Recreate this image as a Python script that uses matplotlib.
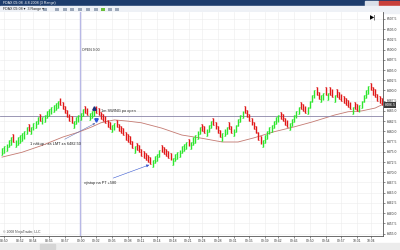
import matplotlib
matplotlib.use("Agg")
import matplotlib.pyplot as plt
from matplotlib.patches import Rectangle
import numpy as np

plt.rcParams['font.family'] = ['Liberation Sans', 'DejaVu Sans']

# close of every range bar
closes = [
    6476.0, 6476.5, 6477.0, 6478.0, 6478.5, 6477.5, 6478.0, 6478.5, 6479.0, 6479.5,
    6480.0, 6481.0, 6480.0, 6481.0, 6482.0, 6482.5, 6483.5, 6482.5, 6483.5, 6484.0,
    6485.0, 6485.5, 6486.0, 6486.5, 6487.0, 6487.5, 6486.5, 6485.5, 6484.5, 6483.5,
    6482.5, 6482.0, 6482.5, 6483.5, 6484.0, 6484.5, 6485.5, 6484.5, 6484.0, 6484.5,
    6485.0, 6485.5, 6484.5, 6484.0, 6483.0, 6482.5, 6482.0, 6481.0, 6480.5, 6481.5,
    6482.0, 6481.0, 6480.0, 6479.5, 6479.0, 6478.0, 6477.5, 6477.0, 6476.0, 6476.5,
    6475.5, 6475.0, 6474.0, 6473.5, 6473.0, 6472.5, 6472.0, 6473.0, 6474.0, 6474.5,
    6475.5, 6475.0, 6474.5, 6474.0, 6473.5, 6473.0, 6473.5, 6474.5, 6475.0, 6475.5,
    6476.5, 6477.0, 6477.5, 6476.5, 6477.5, 6478.5, 6479.0, 6480.0, 6481.0, 6480.0,
    6479.5, 6480.5, 6481.5, 6482.5, 6481.5, 6480.5, 6479.5, 6478.5, 6479.5, 6480.5,
    6481.0, 6480.5, 6479.5, 6480.5, 6481.5, 6483.0, 6484.0, 6485.0, 6484.5, 6483.5,
    6482.5, 6481.5, 6480.5, 6479.5, 6478.0, 6477.0, 6478.0, 6479.0, 6480.0, 6481.0,
    6481.5, 6482.5, 6483.5, 6484.0, 6483.0, 6482.5, 6481.5, 6481.0, 6482.0, 6483.0,
    6484.0, 6485.0, 6486.0, 6485.5, 6485.0, 6484.5, 6486.0, 6487.5, 6489.0, 6490.0,
    6489.0, 6488.0, 6489.0, 6489.5, 6489.0, 6489.5, 6489.0, 6488.5, 6489.0, 6488.5,
    6488.0, 6487.5, 6487.0, 6486.5, 6486.0, 6485.5, 6486.0, 6485.5, 6485.0, 6486.5,
    6487.5, 6489.0, 6490.0, 6491.0, 6490.0, 6489.0, 6488.5, 6487.5, 6487.0, 6486.5,
]

# moving average line, sampled at bar indices
ma_idx = [0, 9, 18, 27, 34, 40, 44, 50, 56, 62, 71, 80, 88, 98, 105, 112, 121, 130,
          138, 148, 154, 160, 166, 169]
ma_vals = [6473.7, 6474.9, 6476.6, 6478.6, 6479.8, 6481.1, 6482.1, 6482.8, 6482.5,
           6482.1, 6480.8, 6479.1, 6478.4, 6477.4, 6477.4, 6478.4, 6479.9, 6481.1,
           6482.3, 6484.0, 6484.8, 6485.0, 6485.7, 6486.5]

time_idx = [1, 8, 14, 21, 28, 35, 42, 49, 56, 62, 69, 76, 83, 89, 96, 103, 110, 117,
            123, 130, 137, 144, 151, 158, 164]
time_labels = ['08:50', '08:52', '08:54', '08:55', '08:57', '09:00', '09:02', '09:05',
               '09:08', '09:11', '09:14', '09:18', '09:21', '09:24', '09:28', '09:31',
               '09:35', '09:39', '09:42', '09:46', '09:50', '09:54', '09:57', '10:01',
               '10:04']

open_level = 6483.75
open_bar = 35
bar_range = 1.75

fig = plt.figure(figsize=(4, 2.5), dpi=100)

# window chrome in pixel coordinates
bg = fig.add_axes([0, 0, 1, 1])
bg.set_xlim(0, 400)
bg.set_ylim(250, 0)
bg.axis('off')
bg.add_patch(Rectangle((0, 0), 400, 6, color='#1d3c6c'))
bg.add_patch(Rectangle((365, 0.5), 13, 5, color='#d9dfe8'))
bg.add_patch(Rectangle((379, 0.5), 20, 5, color='#c8403a'))
bg.text(3, 3, 'FDAX 09-08  4.8.2008 (3 Range)', color='white', fontsize=2.6, va='center')
bg.add_patch(Rectangle((0, 6), 400, 6.5, color='#eef1f6'))
bg.text(3, 9.3, 'FDAX 09-08 \u25be  3 Range \u25be', color='#222222', fontsize=2.6, va='center')
for k, x in enumerate([43, 55, 63, 70, 78, 86, 94, 101, 108, 115]):
    bg.add_patch(Rectangle((x, 7.5), 4, 3.5, facecolor='#9aa6b8' if k != 7 else '#6bbf3a',
                           edgecolor='none'))
bg.add_patch(Rectangle((0, 243), 400, 7, color='#ececec'))
bg.add_patch(Rectangle((40, 244), 15, 5, color='#d5d5d5'))

ax = fig.add_axes([0, 14 / 250, 383 / 400, 224 / 250])
ax.set_zorder(2)
ax.set_facecolor('white')

xs = np.arange(len(closes))
lows, highs, opens, cols = [], [], [], []
for i, c in enumerate(closes):
    prev = closes[i - 1] if i else c - 0.5
    if c >= prev:
        lows.append(c - bar_range); highs.append(c); opens.append(c - bar_range)
        cols.append('#2ee62e')
    else:
        lows.append(c); highs.append(c + bar_range); opens.append(c + bar_range)
        cols.append('#e01818')

ax.vlines(xs, lows, highs, colors=cols, lw=1.0, zorder=3)
ax.hlines(opens, xs - 0.4, xs, colors=cols, lw=0.5, zorder=3)
ax.hlines(closes, xs, xs + 0.4, colors=cols, lw=0.5, zorder=3)

ax.plot(ma_idx, ma_vals, color='#c47a72', lw=0.6, zorder=2)
ax.axhline(open_level, color='#8a86a8', lw=0.6, zorder=2)
ax.axvline(open_bar - 0.5, color='#b8b8e6', lw=1.0, zorder=1)
ax.text(open_bar + 0.8, 6500.0, 'OPEN 9:00', fontsize=2.5, color='#333333', va='center')

# trade markers and notes
ax.plot([41], [6485.6], marker='^', color='#1c2f7a', ms=2.5, zorder=4)
ax.plot([42], [6482.8], marker='v', color='#2a55d8', ms=2.5, zorder=4)
ax.text(44, 6485.0, '1m SWING po open', fontsize=2.8, color='#222222', va='center')
ax.annotate('1 n\u00e1kup - za LMT za 6482.50', xy=(41.5, 6482.0), xytext=(12.5, 6476.9),
            fontsize=2.8, color='#222222', va='center',
            arrowprops=dict(arrowstyle='-|>', color='#6a7ab8', lw=0.4,
                            mutation_scale=3, shrinkA=0, shrinkB=0))
ax.annotate('v\u00fdstup na PT +580', xy=(65.5, 6471.8), xytext=(36.5, 6467.4),
            fontsize=2.8, color='#222222', va='center',
            arrowprops=dict(arrowstyle='-|>', color='#3a5ad0', lw=0.4,
                            mutation_scale=4, shrinkA=0, shrinkB=0))
ax.text(0.5, 6455.3, '\u00a9 2008 NinjaTrader, LLC', fontsize=2.4, color='#444444', va='center')
ax.text(0.982, 0.975, '\u25b6|', transform=ax.transAxes, fontsize=4, color='black',
        ha='right', va='center', family=['DejaVu Sans'])

# last price box
ax.annotate('%.1f' % closes[-1], xy=(1.0, closes[-1]), xycoords=('axes fraction', 'data'),
            xytext=(1.004, closes[-1]), textcoords=('axes fraction', 'data'),
            fontsize=2.6, color='white', va='center', ha='left', annotation_clip=False,
            bbox=dict(boxstyle='square,pad=0.25', fc='#3c3c3c', ec='none'))

ax.set_xlim(-0.9, 169.5)
ax.set_ylim(6454.4, 6509.2)
ax.set_yticks(np.arange(6455, 6508, 2.5))
ax.yaxis.set_major_formatter(plt.FormatStrFormatter('%.1f'))
ax.yaxis.tick_right()
ax.set_xticks(time_idx)
ax.set_xticklabels(time_labels)
ax.tick_params(axis='both', labelsize=2.4, length=1.5, width=0.4, colors='#333333', pad=1)
ax.grid(True, color='#ececec', lw=0.4)
ax.set_axisbelow(True)
for s in ['top', 'left']:
    ax.spines[s].set_visible(False)
for s in ['right', 'bottom']:
    ax.spines[s].set_color('#555555')
    ax.spines[s].set_linewidth(0.6)

fig.savefig('out.png', dpi=100)
